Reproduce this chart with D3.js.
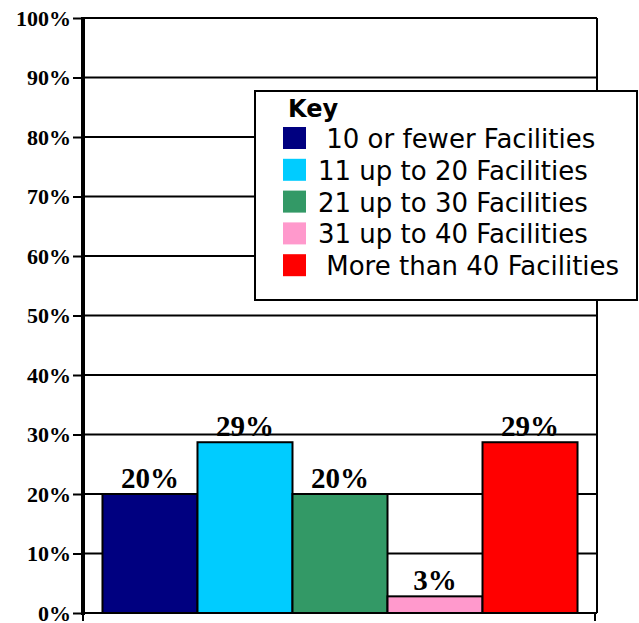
<!DOCTYPE html>
<html>
<head>
<meta charset="utf-8">
<script src="https://cdn.jsdelivr.net/npm/d3@7"></script>
<style>
  body { margin: 0; background: #fff; }
  svg { display: block; }
</style>
</head>
<body>
<svg class="barchart" width="639" height="623"></svg>
<script>
// chart data
const categories = ['10 or fewer Facilities', '11 up to 20 Facilities', '21 up to 30 Facilities', '31 up to 40 Facilities', 'More than 40 Facilities'];
const values = [20, 28.7, 20, 2.8, 28.7];
const barLabels = ['20%', '29%', '20%', '3%', '29%'];
const colors = ['#000080', '#00ccff', '#339966', '#ff99cc', '#ff0000'];
const legendLabels = [' 10 or fewer Facilities', '11 up to 20 Facilities', '21 up to 30 Facilities', '31 up to 40 Facilities', ' More than 40 Facilities'];
const yTicks = [0, 10, 20, 30, 40, 50, 60, 70, 80, 90, 100];

const plotLeft = 83, plotRight = 597, plotTop = 18, plotBottom = 613;

const svg = d3.select('.barchart');

const yScale = d3.scaleLinear()
    .domain([0, 100])
    .range([plotBottom, plotTop]);

const xScale = d3.scaleBand()
    .domain(categories)
    .range([plotLeft, plotRight])
    .paddingInner(0)
    .paddingOuter(0.205);

// grid lines
svg.append('g')
    .selectAll('line')
    .data(yTicks.filter(d => d > 0))
    .join('line')
    .attr('x1', plotLeft)
    .attr('x2', plotRight)
    .attr('y1', d => yScale(d))
    .attr('y2', d => yScale(d))
    .attr('stroke', '#000')
    .attr('stroke-width', 2);

// right border
svg.append('line')
    .attr('x1', plotRight).attr('x2', plotRight)
    .attr('y1', plotTop).attr('y2', plotBottom)
    .attr('stroke', '#000')
    .attr('stroke-width', 2);

// bars
svg.append('g')
    .selectAll('rect')
    .data(values)
    .join('rect')
    .attr('x', (d, i) => xScale(categories[i]))
    .attr('y', d => yScale(d))
    .attr('width', xScale.bandwidth())
    .attr('height', d => plotBottom - yScale(d))
    .attr('fill', (d, i) => colors[i])
    .attr('stroke', '#000')
    .attr('stroke-width', 2);

// bar labels
svg.append('g')
    .selectAll('text')
    .data(values)
    .join('text')
    .attr('x', (d, i) => xScale(categories[i]) + xScale.bandwidth() / 2)
    .attr('y', d => yScale(d) - 6)
    .attr('text-anchor', 'middle')
    .attr('font-family', '"Liberation Serif", "Times New Roman", serif')
    .attr('font-weight', 'bold')
    .attr('font-size', 29)
    .text((d, i) => barLabels[i]);

// y axis
const yAxis = svg.append('g')
    .attr('transform', `translate(${plotLeft}, 0)`)
    .call(d3.axisLeft(yScale).tickValues(yTicks).tickSize(10).tickPadding(2).tickFormat(d => d + '%'));
yAxis.select('.domain').remove();
yAxis.selectAll('.tick line').attr('stroke-width', 2);
yAxis.selectAll('text')
    .attr('font-family', '"Liberation Serif", "Times New Roman", serif')
    .attr('font-weight', 'bold')
    .attr('font-size', 22)
    .attr('fill', '#000')
    .attr('dy', '0.33em');
yAxis.append('line')
    .attr('x1', 0).attr('x2', 0)
    .attr('y1', plotTop - 1).attr('y2', plotBottom + 2)
    .attr('stroke', '#000')
    .attr('stroke-width', 4);

// x axis line with end ticks
svg.append('line')
    .attr('x1', plotLeft).attr('x2', plotRight)
    .attr('y1', plotBottom).attr('y2', plotBottom)
    .attr('stroke', '#000')
    .attr('stroke-width', 2);
svg.append('g')
    .selectAll('line')
    .data([plotLeft, plotRight - 2])
    .join('line')
    .attr('x1', d => d).attr('x2', d => d)
    .attr('y1', plotBottom).attr('y2', plotBottom + 8)
    .attr('stroke', '#000')
    .attr('stroke-width', 2);

// legend
const legend = svg.append('g');
legend.append('rect')
    .attr('x', 255).attr('y', 91)
    .attr('width', 382).attr('height', 209)
    .attr('fill', '#fff')
    .attr('stroke', '#000')
    .attr('stroke-width', 2);
legend.append('text')
    .attr('x', 288).attr('y', 117)
    .attr('font-family', '"DejaVu Sans", Verdana, sans-serif')
    .attr('font-weight', 'bold')
    .attr('font-size', 24)
    .text('Key');
const items = legend.selectAll('g.item')
    .data(legendLabels)
    .join('g')
    .attr('class', 'item')
    .attr('transform', (d, i) => `translate(283, ${127 + i * 31.8})`);
items.append('rect')
    .attr('width', 23).attr('height', 22)
    .attr('fill', (d, i) => colors[i]);
items.append('text')
    .attr('x', 35).attr('y', 21)
    .attr('font-family', '"DejaVu Sans", Verdana, sans-serif')
    .attr('font-size', 26)
    .style('white-space', 'pre')
    .text(d => d);
</script>
</body>
</html>
